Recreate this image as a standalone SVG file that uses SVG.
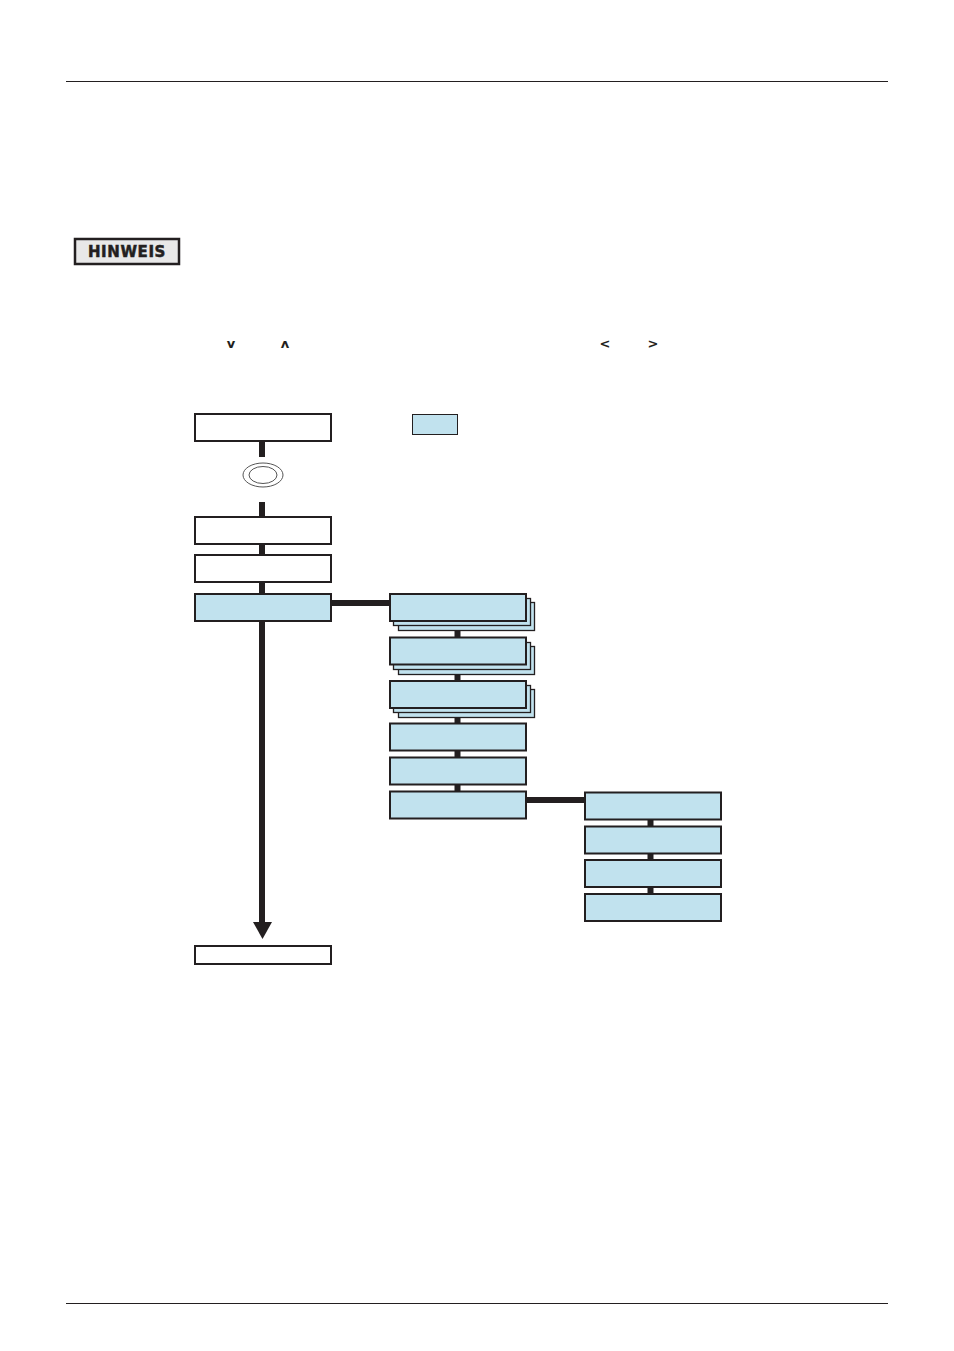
<svg xmlns="http://www.w3.org/2000/svg" width="954" height="1351" viewBox="0 0 954 1351">
<style>
.rule{stroke:#231f20;stroke-width:1}
.box{fill:#fff;stroke:#231f20;stroke-width:2}
.blue{fill:#c1e2ee;stroke:#231f20;stroke-width:2}
.stk{fill:#c1e2ee;stroke:#231f20;stroke-width:1.3}
.con{stroke:#231f20;stroke-width:6;fill:none}
.chev{font-family:"DejaVu Sans",sans-serif;font-weight:bold;font-size:13px;fill:#231f20;text-anchor:middle}
</style>
<rect width="954" height="1351" fill="#fff"/>
<line class="rule" x1="66" y1="81.5" x2="888" y2="81.5"/>
<line class="rule" x1="66" y1="1303.5" x2="888" y2="1303.5"/>
<g id="hinweis">
<rect x="75" y="239" width="104" height="25" fill="#e8e8e8" stroke="#231f20" stroke-width="2.5"/>
<text x="127" y="257" font-family="DejaVu Sans,sans-serif" font-weight="bold" font-size="15" fill="#231f20" text-anchor="middle" letter-spacing="0.6" stroke="#231f20" stroke-width="0.5">HINWEIS</text>
</g>
<g id="keys">
<text class="chev" x="231" y="348">v</text>
<text class="chev" x="285" y="348">ʌ</text>
<text class="chev" x="605" y="348">&lt;</text>
<text class="chev" x="653" y="348">&gt;</text>
</g>
<g id="connectors">
<line class="con" x1="262" y1="441" x2="262" y2="457"/>
<line class="con" x1="262" y1="502" x2="262" y2="516"/>
<line class="con" x1="262" y1="544" x2="262" y2="555"/>
<line class="con" x1="262" y1="582" x2="262" y2="594"/>
<line class="con" x1="262" y1="621" x2="262" y2="923"/>
<polygon points="253,922 272,922 262.5,939" fill="#231f20"/>
<line class="con" x1="331" y1="603" x2="390" y2="603"/>
<line class="con" x1="457.5" y1="621" x2="457.5" y2="637"/>
<line class="con" x1="457.5" y1="664" x2="457.5" y2="680"/>
<line class="con" x1="457.5" y1="708" x2="457.5" y2="723"/>
<line class="con" x1="457.5" y1="750" x2="457.5" y2="757"/>
<line class="con" x1="457.5" y1="784" x2="457.5" y2="791"/>
<line class="con" x1="526" y1="800" x2="585" y2="800"/>
<line class="con" x1="650.5" y1="819" x2="650.5" y2="826"/>
<line class="con" x1="650.5" y1="853" x2="650.5" y2="860"/>
<line class="con" x1="650.5" y1="887" x2="650.5" y2="894"/>
</g>
<g id="n1"><rect class="box" x="195" y="414" width="136" height="27"/></g>
<g id="key-symbol">
<ellipse cx="263" cy="475" rx="20" ry="12" fill="none" stroke="#555" stroke-width="1"/>
<ellipse cx="263" cy="475" rx="14" ry="8.5" fill="none" stroke="#555" stroke-width="1"/>
</g>
<g id="legend"><rect x="412.5" y="414.5" width="45" height="20" fill="#c1e2ee" stroke="#231f20" stroke-width="1"/></g>
<g id="n2"><rect class="box" x="195" y="517" width="136" height="27"/></g>
<g id="n3"><rect class="box" x="195" y="555" width="136" height="27"/></g>
<g id="n4"><rect class="blue" x="195" y="594" width="136" height="27"/></g>
<g id="a1">
<rect class="stk" x="398.5" y="602.5" width="136" height="28"/>
<rect class="stk" x="393.5" y="598.5" width="137" height="27"/>
<rect class="blue" x="390" y="594" width="136" height="27"/>
</g>
<g id="a2">
<rect class="stk" x="398.5" y="646.5" width="136" height="28"/>
<rect class="stk" x="393.5" y="642.5" width="137" height="27"/>
<rect class="blue" x="390" y="637.5" width="136" height="27"/>
</g>
<g id="a3">
<rect class="stk" x="398.5" y="689.5" width="136" height="28"/>
<rect class="stk" x="393.5" y="685.5" width="137" height="27"/>
<rect class="blue" x="390" y="681" width="136" height="27"/>
</g>
<g id="a4"><rect class="blue" x="390" y="723.5" width="136" height="27"/></g>
<g id="a5"><rect class="blue" x="390" y="757.5" width="136" height="27"/></g>
<g id="a6"><rect class="blue" x="390" y="791.5" width="136" height="27"/></g>
<g id="b1"><rect class="blue" x="585" y="792.5" width="136" height="27"/></g>
<g id="b2"><rect class="blue" x="585" y="826.5" width="136" height="27"/></g>
<g id="b3"><rect class="blue" x="585" y="860" width="136" height="27"/></g>
<g id="b4"><rect class="blue" x="585" y="894" width="136" height="27"/></g>
<g id="end"><rect class="box" x="195" y="946" width="136" height="18"/></g>
</svg>
